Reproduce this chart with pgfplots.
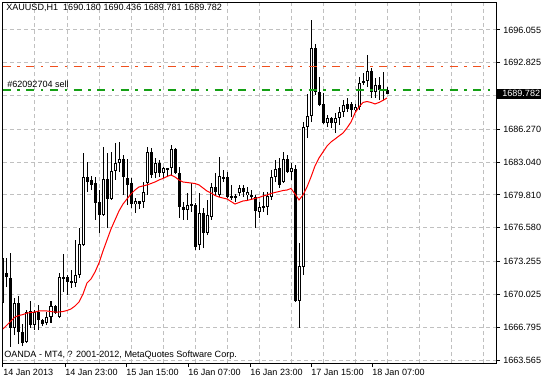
\documentclass[border=0pt]{standalone}
\usepackage{fontspec}
\setmainfont{Liberation Sans}
\usepackage{pgfplots}
\usepackage{pgfplotstable}
\pgfplotsset{compat=1.18}
\definecolor{gridgray}{RGB}{192,192,192}
\definecolor{slred}{RGB}{240,80,30}
\definecolor{ordgrn}{RGB}{20,160,20}
\newcommand{\lbl}{\fontsize{6.8}{8}\selectfont}
\pgfplotstableread{
k o h l c m
0 1669.18 1674.59 1667.90 1673.61 1666.62
1 1672.13 1673.61 1670.75 1671.74 1667.01
2 1671.64 1674.10 1664.85 1666.72 1667.41
3 1666.72 1669.67 1666.03 1669.18 1667.80
4 1669.18 1669.87 1665.14 1666.32 1667.95
5 1666.32 1667.11 1664.94 1665.24 1668.04
6 1665.34 1668.49 1665.24 1668.29 1668.19
7 1668.39 1669.37 1666.72 1667.01 1668.24
8 1667.01 1668.49 1666.52 1668.29 1668.29
9 1668.29 1668.98 1666.52 1667.50 1668.39
10 1667.50 1667.60 1666.91 1667.11 1668.39
11 1667.21 1668.29 1667.01 1667.80 1668.39
12 1667.80 1669.37 1667.21 1668.88 1668.34
13 1668.88 1668.98 1668.09 1668.19 1668.29
14 1667.80 1672.13 1667.70 1671.74 1668.29
15 1671.74 1674.00 1670.26 1671.54 1668.34
16 1671.74 1671.94 1669.96 1671.25 1668.44
17 1671.15 1672.43 1670.66 1671.34 1668.59
18 1671.15 1675.38 1670.75 1671.94 1668.88
19 1671.94 1676.56 1671.64 1674.99 1669.28
20 1674.89 1683.94 1674.79 1681.58 1670.06
21 1681.58 1683.06 1680.11 1681.09 1671.15
22 1681.29 1681.68 1680.30 1680.80 1671.54
23 1680.99 1681.58 1677.35 1679.02 1672.23
24 1679.12 1680.30 1676.07 1677.84 1673.12
25 1677.84 1684.54 1677.75 1681.39 1674.30
26 1681.39 1683.94 1676.56 1679.42 1675.38
27 1679.42 1684.04 1679.32 1682.17 1676.46
28 1682.17 1684.93 1681.29 1682.96 1677.35
29 1682.96 1685.03 1682.07 1683.35 1678.24
30 1683.35 1683.75 1679.81 1681.58 1678.92
31 1681.48 1683.35 1678.83 1680.80 1679.42
32 1680.99 1681.48 1678.53 1678.92 1679.91
33 1678.92 1679.51 1678.04 1679.22 1680.30
34 1679.22 1679.25 1678.43 1678.92 1680.60
35 1679.12 1681.09 1678.53 1680.11 1680.70
36 1680.99 1684.54 1679.81 1684.04 1680.80
37 1684.04 1684.44 1681.48 1681.78 1680.94
38 1681.98 1683.45 1681.48 1682.96 1681.09
39 1682.96 1683.26 1681.58 1681.98 1681.29
40 1681.98 1682.57 1681.48 1682.47 1681.44
41 1682.47 1682.50 1681.58 1682.27 1681.63
42 1682.47 1684.73 1681.68 1684.34 1681.78
43 1684.34 1684.44 1681.88 1681.98 1681.58
44 1681.98 1682.57 1677.55 1678.63 1681.29
45 1678.63 1679.12 1677.35 1678.33 1681.09
46 1678.33 1680.01 1677.35 1678.83 1681.04
47 1678.92 1680.99 1678.14 1678.73 1680.99
48 1678.83 1679.02 1674.39 1674.69 1680.94
49 1674.89 1680.01 1674.39 1678.04 1680.80
50 1678.04 1678.53 1674.59 1676.07 1680.50
51 1676.07 1679.32 1675.87 1677.84 1680.20
52 1677.65 1680.99 1677.35 1680.60 1680.01
53 1680.60 1681.98 1679.81 1680.11 1679.76
54 1679.81 1683.55 1679.61 1681.68 1679.61
55 1681.58 1682.27 1681.09 1681.48 1679.51
56 1681.58 1682.07 1679.51 1679.61 1679.42
57 1679.71 1680.80 1679.32 1679.61 1679.17
58 1679.71 1679.91 1679.12 1679.61 1678.92
59 1680.01 1680.80 1679.71 1680.50 1679.07
60 1680.50 1680.80 1679.61 1680.11 1679.22
61 1679.81 1680.60 1679.32 1680.11 1679.27
62 1679.81 1680.30 1679.32 1679.61 1679.37
63 1679.61 1679.81 1676.56 1678.24 1679.47
64 1678.14 1679.12 1677.55 1678.63 1679.56
65 1678.73 1680.11 1678.14 1678.53 1679.71
66 1678.63 1680.11 1677.84 1679.71 1679.81
67 1679.61 1682.27 1679.32 1681.58 1679.96
68 1681.58 1683.26 1681.09 1682.37 1680.06
69 1682.47 1683.45 1680.50 1680.80 1680.15
70 1681.09 1684.04 1680.99 1683.35 1680.25
71 1683.35 1683.75 1681.98 1682.07 1680.30
72 1682.07 1682.96 1681.29 1682.47 1680.45
73 1682.37 1682.76 1669.30 1669.37 1679.91
74 1669.37 1675.08 1666.72 1672.82 1679.32
75 1672.72 1686.98 1671.94 1686.50 1679.81
76 1686.50 1689.75 1685.42 1687.59 1680.60
77 1687.59 1697.04 1686.98 1694.28 1681.58
78 1694.28 1694.68 1689.66 1689.95 1682.67
79 1689.95 1691.43 1688.57 1688.67 1683.45
80 1688.77 1689.85 1686.80 1686.90 1684.04
81 1686.90 1687.69 1686.50 1687.39 1684.63
82 1687.39 1687.49 1686.41 1686.90 1685.03
83 1686.90 1687.88 1685.91 1687.39 1685.32
84 1687.39 1688.47 1686.70 1687.98 1685.62
85 1687.98 1689.16 1687.49 1688.67 1685.91
86 1688.77 1689.36 1687.98 1688.28 1686.41
87 1688.77 1688.97 1687.49 1688.18 1686.99
88 1688.18 1688.77 1687.98 1688.47 1687.88
89 1688.47 1691.43 1688.18 1690.84 1688.47
90 1690.84 1691.82 1690.64 1691.03 1688.92
91 1691.03 1693.59 1690.44 1692.02 1689.01
92 1692.02 1692.31 1689.36 1689.95 1688.92
93 1689.95 1691.33 1689.36 1690.64 1688.77
94 1690.64 1691.43 1689.16 1690.15 1688.92
95 1690.25 1691.92 1689.16 1690.05 1689.12
96 1690.18 1690.436 1689.781 1689.782 1689.36
}\candles
\begin{document}
\begin{tikzpicture}
\begin{axis}[
  scale only axis, width=369.75pt, height=270pt,
  xmin=0, xmax=123.25, ymin=1663.27, ymax=1698.71,
  axis line style={black, line width=0.75pt},
  tick align=outside, major tick length=3pt, minor tick length=0pt,
  tick style={black, line width=0.75pt},
  xtick pos=bottom, ytick pos=right, yticklabel pos=right,
  xtick={0,15.5,30.75,46.25,61.75,77,92.25},
  xticklabels={14 Jan 2013,14 Jan 23:00,15 Jan 15:00,16 Jan 07:00,16 Jan 23:00,17 Jan 15:00,18 Jan 07:00},
  xticklabel style={anchor=north west, inner sep=0pt, yshift=-1.5pt, font=\lbl},
  minor xtick={8,16,...,120},
  xminorgrids,
  ytick={1663.565,1666.795,1670.025,1673.255,1676.580,1679.810,1683.040,1686.270,1689.59,1692.825,1696.055},
  yticklabels={1663.565,1666.795,1670.025,1673.255,1676.580,1679.810,1683.040,1686.270,{},1692.825,1696.055},
  yticklabel style={anchor=west, inner sep=0pt, xshift=2.25pt, font=\lbl},
  ymajorgrids,
  grid style={gridgray, line width=0.75pt, dash pattern=on 3pt off 2.25pt},
  minor grid style={gridgray, line width=0.75pt, dash pattern=on 3pt off 2.25pt},
  candle/.style={draw=none, mark=none, forget plot,
    /pgfplots/error bars/y explicit, /pgfplots/error bars/error mark=none},
]
% wicks
\addplot[candle, error bars/.cd, y dir=plus,
  error bar style={draw=black, line width=0.75pt, solid}]
  table[x=k, y=l, y error expr={\thisrow{h}-\thisrow{l}}] {\candles};
% bearish bodies
\addplot[candle,
  restrict expr to domain={\thisrow{o}-\thisrow{c}}{0:1000},
  error bars/.cd, y dir=both,
  error bar style={draw=black, line width=2.25pt, solid}]
  table[x=k, y expr={(\thisrow{o}+\thisrow{c})/2}, y error expr={max(abs(\thisrow{o}-\thisrow{c})/2,0.05)}] {\candles};
% bullish bodies: outline
\addplot[candle,
  restrict expr to domain={\thisrow{c}-\thisrow{o}}{0:1000},
  error bars/.cd, y dir=both,
  error bar style={draw=black, line width=2.25pt, solid}]
  table[x=k, y expr={(\thisrow{o}+\thisrow{c})/2}, y error expr={max(abs(\thisrow{o}-\thisrow{c})/2,0.05)}] {\candles};
% bullish bodies: white inside
\addplot[candle,
  restrict expr to domain={\thisrow{c}-\thisrow{o}}{0.2:1000},
  error bars/.cd, y dir=both,
  error bar style={draw=white, line width=0.75pt, solid}]
  table[x=k, y expr={(\thisrow{o}+\thisrow{c})/2}, y error expr={abs(\thisrow{o}-\thisrow{c})/2-0.0985}] {\candles};
% moving average
\addplot[draw=red, line width=0.75pt, mark=none, forget plot] table[x=k, y=m] {\candles};
% order levels
\draw[draw=slred, line width=0.8pt, dash pattern=on 6pt off 4.875pt on 1.875pt off 4.875pt] (axis cs:0,1692.44) -- (axis cs:123.25,1692.44);
\draw[draw=ordgrn, line width=0.9pt, dash pattern=on 6pt off 4.875pt on 1.875pt off 4.875pt] (axis cs:0,1690.15) -- (axis cs:123.25,1690.15);
\coordinate (bid) at (axis cs:123.25,1689.782);
\coordinate (grn) at (axis cs:0,1690.15);
\end{axis}
\node[anchor=north west, inner sep=0pt, font=\lbl] at ([shift={(2.25pt,-0.75pt)}]current axis.north west) {XAUUSD,H1\ \ 1690.180 1690.436 1689.781 1689.782};
\node[anchor=base west, inner sep=0pt, font=\lbl] at ([shift={(0.75pt,4.5pt)}]current axis.south west) {OANDA - MT4, ? 2001-2012, MetaQuotes Software Corp.};
\node[anchor=base west, inner sep=0pt, font=\lbl] at ([shift={(3pt,1.5pt)}]grn) {\#62092704 sell};
\fill[black] ([shift={(0.75pt,-3.75pt)}]bid) rectangle ([shift={(33.75pt,3.75pt)}]bid);
\node[anchor=west, inner sep=0pt, text=white, font=\lbl] at ([shift={(4.5pt,0pt)}]bid) {1689.782};
\pgfresetboundingbox
\path[use as bounding box] ([shift={(-2.25pt,-12.75pt)}]current axis.south west) rectangle ([shift={(34.5pt,2.25pt)}]current axis.north east);
\end{tikzpicture}
\end{document}
